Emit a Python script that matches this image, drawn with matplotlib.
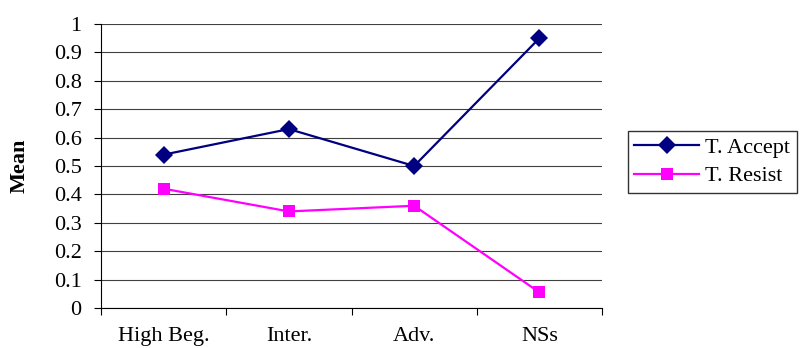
import matplotlib.pyplot as plt

niveles = ['High Beg.', 'Inter.', 'Adv.', 'NSs']
t_accept = [0.54, 0.63, 0.50, 0.95]
t_resist = [0.42, 0.34, 0.36, 0.055]
yticks = [0, 0.1, 0.2, 0.3, 0.4, 0.5, 0.6, 0.7, 0.8, 0.9, 1]
ylabels = ['0', '0.1', '0.2', '0.3', '0.4', '0.5', '0.6', '0.7', '0.8', '0.9', '1']

plt.rcParams['font.family'] = 'Liberation Serif'

fig = plt.figure(figsize=(8.12, 3.48), dpi=100)
ax = fig.add_axes([0.1244, 0.115, 0.617, 0.816])

# puntos en el centro de cada categoria
x = [i + 0.5 for i in range(len(niveles))]
l1, = ax.plot(x, t_accept, color='#000080', lw=1.6, marker='D', markersize=9.5,
              markeredgewidth=0, label='T. Accept')
l2, = ax.plot(x, t_resist, color='#FF00FF', lw=1.6, marker='s', markersize=9,
              markeredgewidth=0, label='T. Resist')

ax.set_xlim(0, 4)
ax.set_ylim(0, 1)
ax.set_yticks(yticks)
ax.set_yticklabels(ylabels, fontsize=16)
ax.set_xticks([0, 1, 2, 3, 4])
ax.set_xticklabels([])
ax.set_xticks(x, minor=True)
ax.set_xticklabels(niveles, minor=True, fontsize=16)
ax.tick_params(axis='x', which='minor', length=0, pad=14)
ax.tick_params(axis='x', which='major', length=5, width=0.8)
ax.tick_params(axis='y', length=5, width=0.8, pad=9)
ax.grid(axis='y', color='#404040', lw=0.8)
ax.set_axisbelow(True)
for s in ['top', 'right']:
    ax.spines[s].set_visible(False)
ax.spines['left'].set_linewidth(0.8)
ax.spines['bottom'].set_linewidth(0.8)
ax.set_ylabel('Mean', fontsize=16, fontweight='bold', labelpad=17)

fig.legend(handles=[l1, l2], loc='upper left', bbox_to_anchor=(0.773, 0.624),
           fontsize=16, frameon=True, fancybox=False, edgecolor='black',
           handlelength=2.9, handletextpad=0.3, borderaxespad=0,
           borderpad=0.3, labelspacing=0.35)

fig.savefig('out.png', dpi=100)
